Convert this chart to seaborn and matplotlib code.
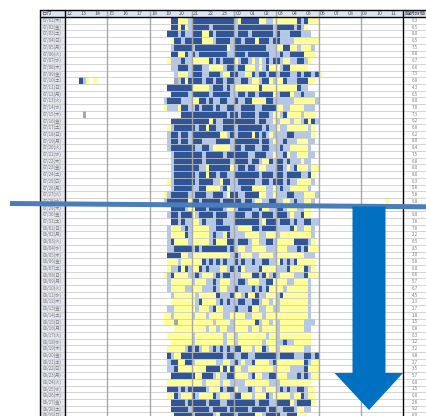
import numpy as np
import pandas as pd
import matplotlib
matplotlib.use('Agg')
import matplotlib.pyplot as plt
from matplotlib.colors import ListedColormap
from matplotlib.patches import Rectangle, Polygon
import seaborn as sns

sns.set_style('white')
plt.rcParams['font.family'] = ['Noto Sans CJK JP', 'DejaVu Sans']

# --- data ---
# one string per night, 15 min slots from 18:00 to 07:00 (spaces = hour marks)
# . none, D deep (dark blue), L light (pale blue), Y awake/REM (yellow), G marker
nights = [
    ".... ..DD YYYL DDDD DDDD DDDD LYDD DDDY YLLY YYYY YYDL DYYY ....",
    ".... ..DD YDYL DDDD DLDD DDDD LDDD DDDD DDDL DDDD DLDL Y... ....",
    ".... .DDD LDLL DDDY YDLD DDDD LDDD LDDD DDDL DLLL DDDL LL.. ....",
    ".... ..YD DLDD DDDY YYLD DDDL DDLD DDYD DDLD DLLL LYYY YYYY ....",
    ".... ..LD DDDD LDDD DDDD DDYL DDDD DDDD DLLL YYDD YYLY YYL. ....",
    ".... ..DD YYDL DLDD DDDD DDLL DDDL DDDD DDLL LDLL DDDD YYY. ....",
    ".... .YLL LDLL YYYY YDLD LDDD YLDD LYLY LDLD DLYY LLDD LY.. ....",
    ".... ..LL DDDL DDDL LYYY YLDD LDDY YYLY LDYY YLDD YYYY Y... ....",
    ".... ...L YYYL DDDL LDDD LYYD DLLY YDLD DLDD LDDD LLDL DDLD Y...",
    ".... ...G LDYD DDDL DDLD DLDD LLDD LYYL DDYL YYDL LLDD DYY. ....",
    ".... .DDD DDDD YYYY YLDD DLDL YYYY YYYD YYYY YYYY YYDL L... ....",
    ".... ..DD DDDL DDDD DLDD DDDL LDDL DDLD DDDY LDDD YLLD LLL. ....",
    ".... LDDD DLLL YYDD LDLL DDLL DLLD DYYY YDDL LLLL LYYY YYYL ....",
    ".... YLLL YDDL LDLD DDLD LLDD LLDD DDLL DDDD YYLL YYYY LLL. ....",
    ".... .... .DDD DDDD DDDD DDLD DLDD DDLD DDLY YLDY YYYL YYY. ....",
    ".... ..DD DDDD DDDD DYDL LDDD DDDD DDLD DLLY LYYY LYYL DYDL ....",
    ".... .YLD DDDD DLDD YDDL LDDD LDDD DDDD LDLL YLLY YYYY YLY. ....",
    ".... .LDD LDDL DDDD DDDD YYLD LDDD DYDL DLYL LLLD DLLL LLY. ....",
    ".... .LDD LDDL DDDL LLLD DDDL DDDD DDDL DDLY LLDL LLYY YLL. ....",
    ".... .LDD DDDD DLLD DLYY YYYL DDLD DDLL DDLL LDLL YYYY YL.. ....",
    ".... ..LD DDDD DDDL DDDD DLDD DDDD LLDD DLLY LLDY LLYY YLL. ....",
    ".... ..LD DDDD DDDL DDDD DDDL DDDD LDDL YYDL DDLD LLLY LL.. ....",
    ".... ..LD DDDD DDLL YDDD DDDY LDDL DDLY YLLL DDLY LDYY YLYY ....",
    ".... ..LD DDDD DLDD YDDL DDLL DDDD DDDL DDDL DDLD DDDL LDY. ....",
    ".... .YLD DDDD DLDD DDLL YDDL LDDD DDLL DDLD DDLD LLYY YYL. ....",
    ".... ..LD DDDD LLDD YYYY LDYL LLDD DYYY YLLY LDLL YYYY YL.. ....",
    ".... YLDD DDDL LDDD LLDD DLYD DLLD DDDY YLLY LLLD DLLL YYYL ....",
    ".... LDDD DDDY DDLD DDDD LDDD DDLD DLYY LLDD LLYY LDLL YYL. ....",
    ".... ..DD DDLY YDDD LDDD DLYY LDDD DLLD YYLL DDLY YYLL YY.. ....",
    ".... .LDD LDDD YLDD DDLD DDLL DDDL LDDL DDDL DDDL YLLD YY.. ....",
    ".... ..DD LDLL YYLD LLLD DLLL DDDD DDDL YDDD LDDD LDLL DDLL ....",
    ".... .LYY YLDL YYYY YLLD DDDL LYYY YDDL DDDD LLLL DYLL YYL. ....",
    ".... .LYY YYDL YYYY YLDL LYDL LLLY YYYL LYYY LYYY YYYY YYL. ....",
    ".... .LDY YYYL YYYY YLDY YYDD LDDD LYYL LDDL YYYY YDDD DLY. ....",
    ".... .LLD DDDD LDLD DDDD DDLD LYYL LYYY YLLL YYYL LLDL DYYY ....",
    ".... .DDD DYYL YYYY YYYY YYYL DLYY YLLY YYYL YYYY YYYY LLL. ....",
    ".... .YYY LYYY YYYD LDLD LDLL DLDL LDLL DDLL YDLD LDYY YYY. ....",
    ".... .YLL DYDL YYDL DLLL YYLD LDYL LLLD YYYY LLLD YYYY DLY. ....",
    ".... YLDY YYYL LDLY YYLD LDDL LLYY YDDL DYLD LYYY YLLL DYYY ....",
    ".... .LYY YYYY LYYY LLDL YYYL LDDL YYYL LDDY YYYL LYYY YL.. ....",
    ".... .LYY YYLL YYYL LLDL YYLL DLLL LDLD LDYY YYLY YYYY YL.. ....",
    ".... ..LY YYYY YLYY YYYD LLLD YYLD YYDL LYYY LDYY YYYY YL.. ....",
    ".... ..YY YYYY YLDY YYYL DLDL LDDL LDDL YYLY LYYY YYYY YL.. ....",
    ".... .LLY YYYY YLYY YLDY YLLL DLLL DYYL LYYL LYYY YYYY YL.. ....",
    ".... YYLY YYYY LYYY LYYY YLLY YYYL LYYY LYYY YYYY YYYY YL.. ....",
    ".... YYYG YYYY YYYY YYLY YYYL YYYY YYDL YYLY LYYY YYYY LLL. ....",
    ".... ...Y YYYY YYYY LYYL YYLL YYYY LYYL YYYY LYYY YYYY LL.. ....",
    ".... .YYY YYYY LYYY YYYY YLYY LYYY YYYY YLYY LYYY YYYY YY.. ....",
    ".... ..YY YYYY LYYY YYYY YLYY LYYY YYYY LYYY LLDL LYYY YY.. ....",
    ".... .YYY YYLD LDLY YLDL DLDL DDYY YLYY DLYY LYYY YYYY LL.. ....",
    ".... .DLY YDDD DDDD DDDD DLDD LLDD LLDD DDDD LDDD DLLL DDLD ....",
    ".... .LDD YYDD LYYY YYYL LYYL DLYL LDYY YYLD YYYY YYYY DLYY ....",
    ".... .LLD YYYY YYYY DDDD YDYD YYLL YYYY YYYL YYYY LLLL DYYY ....",
    ".... ..DD DDDD DYYD DDLY LLDD YYYY LDYY LLDD YYYL LLDL DLYY ....",
    ".... .YYY YYYY YYYL YYYY LYYL LLLY YYYY YYLL LYYY YYYY YY.. ....",
    ".... .DDD LDLD DDDD LYYY DLDD YLLL DLYY LYYY LDLD LLDD LYY. ....",
    ".... .YYD LYYY DLYY YYDL YYYL DDYY YLYY YDLY YYYY LYYD LYY. ....",
    ".... ..DD DDLD DDDD LDDD LLDD DDDD DDLD DDLL DDDD YLDD DDY. ....",
    ".... ..DD DDDL DDDD DLDD DDLD DDDD LDDD DLDD LLDD DLYY LL.. ....",
    ".... ..YD DDDD LDDD DDLY DDDD LDDD DDYY LDDD DLLD DDYY Y... ....",
]

# daytime records: (row, start slot counted from 12:00 in 15 min, pattern)
naps = [
    (9, 4, "DLY.Y"),
    (14, 5, "G"),
    (27, 91, "Y"),
]

sleep_hours = [6.3, 8.5, 8.0, 6.5, 7.5, 6.8, 6.7, 6.6, 7.3, 6.8,
               4.3, 6.5, 8.0, 7.0, 7.3, 6.2, 6.8, 6.2, 8.0, 8.4,
               7.5, 6.8, 8.0, 8.0, 6.3, 5.8, 5.8, 6.8, 7.6, 9.0,
               7.8, 7.8, 2.2, 6.5, 8.5, 3.0, 5.8, 6.0, 6.6, 5.7,
               6.7, 4.5, 2.3, 2.7, 1.8, 1.5, 0.8, 0.3, 1.2, 3.2,
               9.8, 2.7, 3.5, 5.7, 0.0, 1.5, 0.0, 2.8, 9.2, 8.0]

hour_labels = ['12', '13', '14', '15', '16', '17', '18', '19', '20', '21', '22', '23',
               '00', '01', '02', '03', '04', '05', '06', '07', '08', '09', '10', '11']
weekdays = ['月', '火', '水', '木', '金', '土', '日']
days = pd.date_range('2021-07-01', periods=len(nights), freq='D')
date_labels = [f"{d:%m/%d}({weekdays[d.dayofweek]})" for d in days]

# --- build matrix ---
codes = {'.': 0, 'D': 1, 'L': 2, 'Y': 3, 'G': 4}
n_rows, n_cols = len(nights), 96
mat = np.zeros((n_rows, n_cols), dtype=int)
for i, s in enumerate(nights):
    s = s.replace(' ', '').ljust(52, '.')[:52]
    for j, ch in enumerate(s):
        mat[i, 24 + j] = codes[ch]
for r, start, pat in naps:
    for j, ch in enumerate(pat):
        if ch != '.':
            mat[r, start + j] = codes[ch]

# --- layout (pixels) ---
W, H = 426, 416
TOP = 17.0
ROW_H = 6.7
X_DATE, X_GRID, X_END = 40.0, 65.0, 403.0
HOUR_W = (X_END - X_GRID) / 24
Y_HEAD = 9.5

fig = plt.figure(figsize=(W / 100, H / 100), dpi=100)
grid_h = ROW_H * n_rows
ax = fig.add_axes([X_GRID / W, (H - TOP - grid_h) / H, (X_END - X_GRID) / W, grid_h / H])

cmap = ListedColormap(['#ffffff', '#2f5597', '#b4c7e7', '#ffff99', '#a6a6a6'])
sns.heatmap(mat, cmap=cmap, vmin=-0.5, vmax=4.5, cbar=False, ax=ax,
            xticklabels=False, yticklabels=False)

# overlay in pixel coordinates for table decoration
ov = fig.add_axes([0, 0, 1, 1], zorder=5)
ov.set_xlim(0, W)
ov.set_ylim(H, 0)
ov.axis('off')

ov.add_patch(Rectangle((X_DATE, Y_HEAD), W - X_DATE, TOP - Y_HEAD, fc='#dce3f1', ec='none'))
ov.add_patch(Rectangle((X_DATE, TOP), X_GRID - X_DATE, H - TOP, fc='#e3e6ee', ec='none'))

# row lines
for i in range(n_rows + 1):
    y = TOP + ROW_H * i
    ov.plot([X_DATE, W], [y, y], color='#c9c9c9', lw=0.55)
# 3 hour lines
for k in range(3, 24, 3):
    x = X_GRID + HOUR_W * k
    ov.plot([x, x], [Y_HEAD, H], color='#a8a8a8', lw=1.0)

# black borders
ov.plot([X_DATE, W], [Y_HEAD, Y_HEAD], color='black', lw=1.0)
ov.plot([X_DATE, W], [TOP, TOP], color='black', lw=1.0)
for x in (X_DATE, X_GRID - 0.5, X_END):
    ov.plot([x, x], [Y_HEAD, H], color='black', lw=1.0)

# header texts
txt_kw = dict(va='center', fontsize=3.8, color='#505050')
ov.text(X_DATE + 1.5, (Y_HEAD + TOP) / 2, '日付', ha='left', **txt_kw)
for k, lab in enumerate(hour_labels):
    ov.text(X_GRID + HOUR_W * k + 1.5, (Y_HEAD + TOP) / 2, lab, ha='left', **txt_kw)
ov.text(X_END + 1.5, (Y_HEAD + TOP) / 2, '睡眠時間', ha='left', **txt_kw)

# date and sleep-hour columns
for i in range(n_rows):
    y = TOP + ROW_H * (i + 0.5)
    ov.text((X_DATE + X_GRID) / 2, y, date_labels[i], ha='center', va='center',
            fontsize=3.2, color='#7a7a7a')
    ov.text(415, y, f"{sleep_hours[i]:.1f}", ha='center', va='center',
            fontsize=3.2, color='#7a7a7a')

# blue divider line and arrow
ov.plot([10, W], [203.5, 206.8], color='#4a7ebb', lw=3.6, solid_capstyle='butt', zorder=6)
arrow = Polygon([(352.5, 206.5), (385.5, 206.5), (385.5, 373), (403, 373),
                 (369, 410), (334.5, 373), (352.5, 373)],
                closed=True, fc='#0070c0', ec='none', zorder=7)
ov.add_patch(arrow)

fig.savefig('out.png', dpi=100)
